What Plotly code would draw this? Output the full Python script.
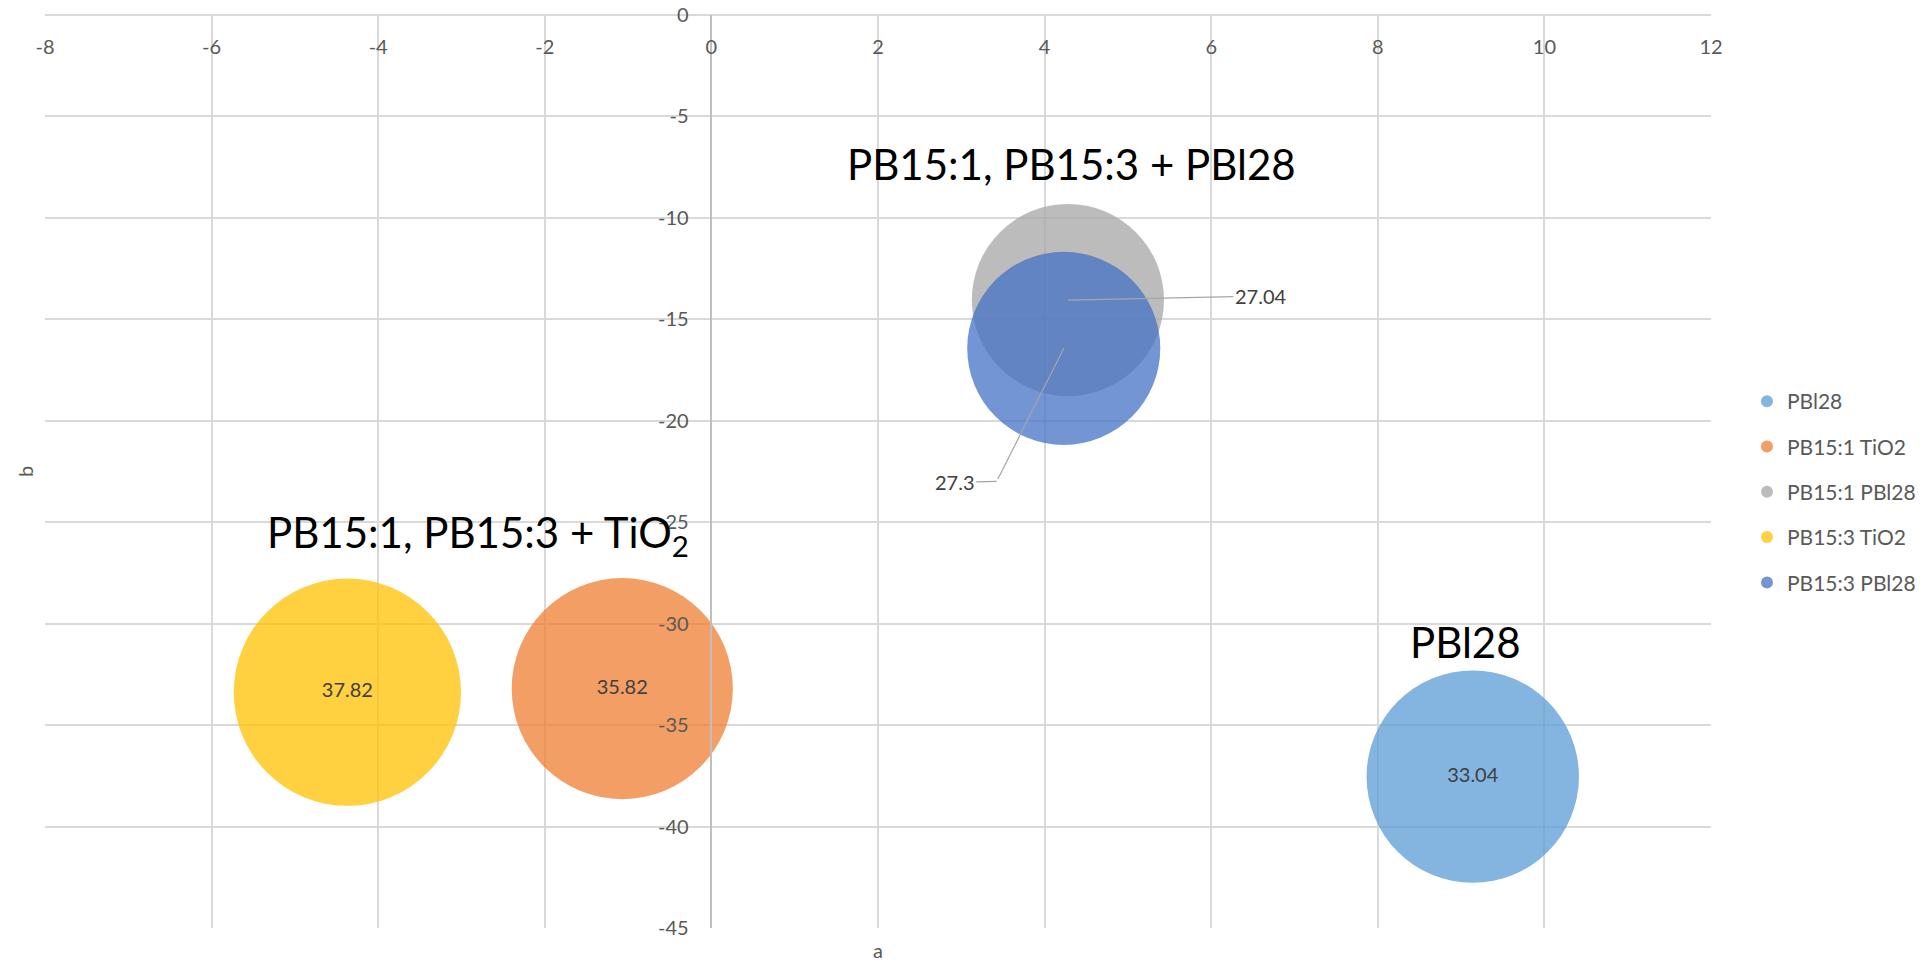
import plotly.graph_objects as go

# CIELAB a*/b* coordinates of each pigment mixture; bubble value = chroma-like metric
series_names = ["PBl28", "PB15:1 TiO2", "PB15:1 PBl28", "PB15:3 TiO2", "PB15:3 PBl28"]
a_values = [9.14, -1.07, 4.28, -4.37, 4.23]
b_values = [-37.54, -33.20, -14.05, -33.38, -16.43]
bubble_values = [33.04, 35.82, 27.04, 37.82, 27.30]
series_colors = ["#5B9BD5", "#ED7D31", "#A5A5A5", "#FFC000", "#4472C4"]

x_tick_values = [-8, -6, -4, -2, 0, 2, 4, 6, 8, 10, 12]
x_tick_labels = ["-8", "-6", "-4", "-2", "0", "2", "4", "6", "8", "10", "12"]
y_tick_values = [0, -5, -10, -15, -20, -25, -30, -35, -40, -45]
y_tick_labels = ["0", "-5", "-10", "-15", "-20", "-25", "-30", "-35", "-40", "-45"]

FONT = "Lato, 'Open Sans', sans-serif"
TICK_GRAY = "#595959"
LABEL_GRAY = "#404040"
DIAM_PER_SQRT = 36.95  # bubble diameter in px per sqrt(value)

# series whose value label sits in the bubble centre; the others use callouts
callout_series = {"PB15:1 PBl28", "PB15:3 PBl28"}

fig = go.Figure()
for name, a, b, v, c in zip(series_names, a_values, b_values, bubble_values, series_colors):
    centered = name not in callout_series
    fig.add_trace(go.Scatter(
        x=[a], y=[b], name=name,
        mode="markers+text" if centered else "markers",
        text=[f"{v:g}"] if centered else None,
        textposition="middle center",
        textfont=dict(family=FONT, size=20, color=LABEL_GRAY),
        marker=dict(size=[v], sizemode="area", sizeref=2 / DIAM_PER_SQRT ** 2,
                    color=c, opacity=0.75, line=dict(width=0)),
        legendgroup=name,
        hoverinfo="name+x+y",
    ))

annotations = []
leader = dict(showarrow=True, arrowhead=0, arrowwidth=1.2, arrowcolor="#A6A6A6",
              font=dict(family=FONT, size=20, color=LABEL_GRAY))

# callout for PB15:1 PBl28
i = series_names.index("PB15:1 PBl28")
annotations.append(dict(x=a_values[i], y=b_values[i], xref="x", yref="y",
                        text=f"{bubble_values[i]:g}", ax=193, ay=-4, **leader))

# bent callout for PB15:3 PBl28: diagonal leg, then a short horizontal leg
i = series_names.index("PB15:3 PBl28")
annotations.append(dict(x=a_values[i], y=b_values[i], xref="x", yref="y",
                        text=" ", ax=-67, ay=133,
                        **{**leader, "font": dict(size=1)}))
annotations.append(dict(x=a_values[i], y=b_values[i], xref="x", yref="y",
                        xshift=-67, yshift=-133,
                        text=f"{bubble_values[i]:g}", ax=-42, ay=1, **leader))

# group captions
caption_font = dict(family=FONT, size=42, color="#000000")
annotations += [
    dict(x=4.32, y=-7.35, xref="x", yref="y", text="PB15:1, PB15:3 + PBl28",
         showarrow=False, font=caption_font),
    dict(x=-2.80, y=-25.65, xref="x", yref="y", text="PB15:1, PB15:3 + TiO<sub>2</sub>",
         showarrow=False, font=caption_font),
    dict(x=9.05, y=-30.92, xref="x", yref="y", text="PBl28",
         showarrow=False, font=caption_font),
]

# axis titles
annotations += [
    dict(x=0.5, y=-0.024, xref="paper", yref="paper", text="a", showarrow=False,
         xanchor="center", yanchor="middle",
         font=dict(family=FONT, size=20, color=TICK_GRAY)),
    dict(x=-0.0123, y=0.5, xref="paper", yref="paper", text="b", showarrow=False,
         xanchor="center", yanchor="middle",
         textangle=-90, font=dict(family=FONT, size=20, color=TICK_GRAY)),
]

fig.update_layout(
    width=1923, height=964,
    margin=dict(l=45, r=212, t=15, b=36, autoexpand=False),
    paper_bgcolor="white", plot_bgcolor="white",
    font=dict(family=FONT, color=TICK_GRAY),
    showlegend=True,
    legend=dict(x=1.0216, y=0.4775, xanchor="left", yanchor="middle",
                font=dict(family=FONT, size=21, color=TICK_GRAY),
                itemsizing="constant", tracegroupgap=15, itemwidth=30),
    annotations=annotations,
    xaxis=dict(range=[-8, 12], tickvals=x_tick_values, ticktext=x_tick_labels,
               anchor="free", position=1, side="bottom", automargin=False,
               showgrid=True, gridcolor="#D9D9D9", gridwidth=1.5,
               zeroline=False, showline=True, linecolor="#D9D9D9", linewidth=1.5,
               ticks="", ticklabelstandoff=14,
               tickfont=dict(family=FONT, size=20, color=TICK_GRAY)),
    yaxis=dict(range=[-45, 0], tickvals=y_tick_values, ticktext=y_tick_labels,
               anchor="free", position=0.4, side="left", automargin=False,
               showgrid=True, gridcolor="#D9D9D9", gridwidth=1.5,
               zeroline=False, showline=True, linecolor="#BFBFBF", linewidth=1.5,
               ticks="", ticklabelstandoff=18,
               tickfont=dict(family=FONT, size=20, color=TICK_GRAY)),
)

fig.write_html("out.html")
